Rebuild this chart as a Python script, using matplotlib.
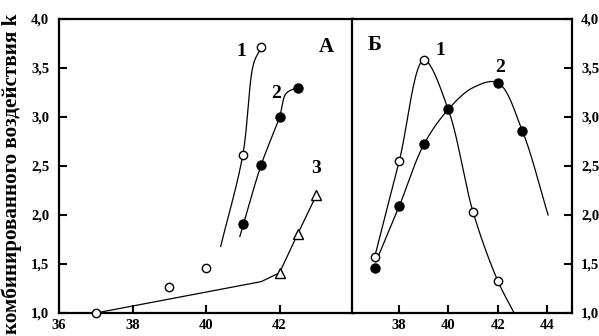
import numpy as np
import matplotlib
matplotlib.use("Agg")
import matplotlib.pyplot as plt
from matplotlib.ticker import FuncFormatter

plt.rcParams['font.family'] = ['Liberation Serif', 'DejaVu Serif']
plt.rcParams['font.weight'] = 'bold'

# ---- Panel A data ----
a1_x = [37, 39, 40, 41, 41.5]
a1_y = [1.0, 1.27, 1.46, 2.61, 3.71]
a2_x = [41, 41.5, 42, 42.5]
a2_y = [1.91, 2.51, 3.0, 3.30]
a3_x = [42, 42.5, 43]
a3_y = [1.41, 1.81, 2.2]
# fitted curves (knots)
a1_cx = [40.4, 41.0, 41.3, 41.51]
a1_cy = [1.68, 2.61, 3.55, 3.71]
a2_cx = [40.92, 41.5, 42.0, 42.18, 42.49]
a2_cy = [1.78, 2.51, 3.0, 3.24, 3.30]
a3_cx = [37, 41.5, 42, 42.5, 43]
a3_cy = [1.0, 1.32, 1.41, 1.81, 2.2]

# ---- Panel B data ----
b1_x = [37, 38, 39, 41, 42]
b1_y = [1.57, 2.55, 3.58, 2.03, 1.33]
b2_x = [37, 38, 39, 40, 42, 43]
b2_y = [1.46, 2.09, 2.72, 3.08, 3.35, 2.86]
b1_cx = [37, 38, 39, 40, 41, 42, 42.67]
b1_cy = [1.57, 2.55, 3.58, 3.07, 2.03, 1.33, 1.0]
b2_cx = [37.05, 38, 39, 40, 41, 42, 43, 44.05]
b2_cy = [1.52, 2.09, 2.72, 3.08, 3.30, 3.35, 2.86, 2.0]

yticks = [1.0, 1.5, 2.0, 2.5, 3.0, 3.5, 4.0]
a_xticks = [36, 38, 40, 42]
b_xticks = [38, 40, 42, 44]


def catmull(xs, ys, sx, sy, n=60, alpha=0.5):
    P = np.column_stack([np.asarray(xs, float) * sx, np.asarray(ys, float) * sy])
    P = np.vstack([2 * P[0] - P[1], P, 2 * P[-1] - P[-2]])
    out = []
    for i in range(1, len(P) - 2):
        p0, p1, p2, p3 = P[i - 1], P[i], P[i + 1], P[i + 2]
        t0 = 0.0
        t1 = t0 + np.linalg.norm(p1 - p0) ** alpha
        t2 = t1 + np.linalg.norm(p2 - p1) ** alpha
        t3 = t2 + np.linalg.norm(p3 - p2) ** alpha
        t = np.linspace(t1, t2, n)[:, None]
        A1 = (t1 - t) / (t1 - t0) * p0 + (t - t0) / (t1 - t0) * p1
        A2 = (t2 - t) / (t2 - t1) * p1 + (t - t1) / (t2 - t1) * p2
        A3 = (t3 - t) / (t3 - t2) * p2 + (t - t2) / (t3 - t2) * p3
        B1 = (t2 - t) / (t2 - t0) * A1 + (t - t0) / (t2 - t0) * A2
        B2 = (t3 - t) / (t3 - t1) * A2 + (t - t1) / (t3 - t1) * A3
        C = (t2 - t) / (t2 - t1) * B1 + (t - t1) / (t2 - t1) * B2
        out.append(C)
    C = np.vstack(out)
    return C[:, 0] / sx, C[:, 1] / sy


W, H = 599, 336
fig = plt.figure(figsize=(W / 100, H / 100), dpi=100)

axA = fig.add_axes([59 / W, (H - 313) / H, 294 / W, 294 / H])
axB = fig.add_axes([352 / W, (H - 313) / H, 219.5 / W, 294 / H])

fmt = FuncFormatter(lambda v, p: f"{v:.1f}".replace('.', ','))
lw_spine = 1.6
lw = 0.9
tfs = 10.5

# Panel A
axA.set_xlim(36, 44)
axA.set_ylim(1, 4)
cx, cy = catmull(a1_cx, a1_cy, 37, 98)
axA.plot(cx, cy, 'k-', lw=lw)
cx, cy = catmull(a2_cx, a2_cy, 37, 98)
axA.plot(cx, cy, 'k-', lw=lw)
axA.plot(a3_cx, a3_cy, 'k-', lw=lw)
axA.plot(a1_x, a1_y, 'o', mfc='white', mec='black', ms=6, mew=1.0, clip_on=False, zorder=5)
axA.plot(a2_x, a2_y, 'o', mfc='black', mec='black', ms=6.5, mew=1.0, clip_on=False, zorder=5)
axA.plot(a3_x, a3_y, '^', mfc='white', mec='black', ms=6.5, mew=1.0, clip_on=False, zorder=5)
axA.set_xticks(a_xticks)
axA.set_yticks(yticks)
axA.yaxis.set_major_formatter(fmt)
axA.tick_params(direction='in', length=6, width=1.5, labelsize=tfs)
axA.tick_params(axis='y', pad=7)
axA.tick_params(axis='x', pad=4)
for s in axA.spines.values():
    s.set_linewidth(lw_spine)
axA.text(40.95, 3.67, '1', fontsize=14, ha='center', va='center')
axA.text(41.9, 3.24, '2', fontsize=14, ha='center', va='center')
axA.text(42.99, 2.47, '3', fontsize=14, ha='center', va='center')
axA.text(43.27, 3.71, 'А', fontsize=15, ha='center', va='center')

# Panel B
axB.set_xlim(36.08, 45.0)
axB.set_ylim(1, 4)
cx, cy = catmull(b1_cx, b1_cy, 24.6, 98)
axB.plot(cx, cy, 'k-', lw=lw)
cx, cy = catmull(b2_cx, b2_cy, 24.6, 98)
axB.plot(cx, cy, 'k-', lw=lw)
axB.plot(b1_x, b1_y, 'o', mfc='white', mec='black', ms=6, mew=1.0, zorder=5)
axB.plot(b2_x, b2_y, 'o', mfc='black', mec='black', ms=6.5, mew=1.0, zorder=5)
axB.set_xticks(b_xticks)
axB.set_yticks(yticks)
axB.yaxis.set_major_formatter(fmt)
axB.yaxis.tick_right()
axB.tick_params(direction='in', length=6, width=1.5, labelsize=tfs)
axB.tick_params(axis='y', pad=7)
axB.tick_params(axis='x', pad=4)
for s in axB.spines.values():
    s.set_linewidth(lw_spine)
axB.text(36.98, 3.73, 'Б', fontsize=15, ha='center', va='center')
axB.text(39.66, 3.68, '1', fontsize=14, ha='center', va='center')
axB.text(42.1, 3.51, '2', fontsize=14, ha='center', va='center')

fig.text(12 / W, 1 - 334 / H, 'комбинированного воздействия k', rotation=90,
         ha='center', va='bottom', fontsize=15.2, fontweight='bold')

fig.savefig('out.png', dpi=100)
